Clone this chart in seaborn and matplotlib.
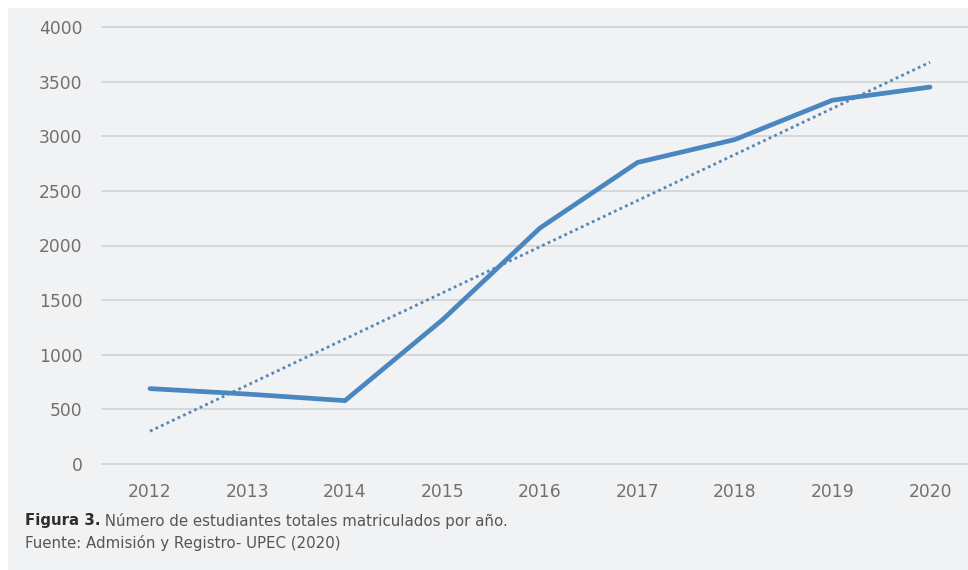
import numpy as np
import pandas as pd
import matplotlib
matplotlib.use("Agg")
import matplotlib.pyplot as plt
import seaborn as sns
from matplotlib.patches import Rectangle

years = [2012, 2013, 2014, 2015, 2016, 2017, 2018, 2019, 2020]
students = [690, 640, 580, 1320, 2160, 2760, 2970, 3330, 3450]
yticks = [0, 500, 1000, 1500, 2000, 2500, 3000, 3500, 4000]
caption_bold = "Figura 3."
caption_rest = " Número de estudiantes totales matriculados por año."
source = "Fuente: Admisión y Registro- UPEC (2020)"

sns.set_theme(style="white")
plt.rcParams['font.family'] = ['DejaVu Sans']

df = pd.DataFrame({"year": years, "students": students})
coef = np.polyfit(df["year"], df["students"], 1)
df["trend"] = np.polyval(coef, df["year"])

W, H = 968, 570
fig = plt.figure(figsize=(W / 100, H / 100), dpi=100, facecolor="white")
bg = Rectangle((8 / W, 0), 1 - 8 / W, (H - 8) / H,
               transform=fig.transFigure, facecolor="#f1f2f4",
               edgecolor="none", zorder=-10)
fig.patches.append(bg)

ax = fig.add_axes([102 / W, (H - 464) / H, (W - 102) / W, (464 - 27) / H])
ax.set_facecolor("none")
ax.set_zorder(1)

for v in yticks:
    ax.axhline(v, color="#d6d7d9", lw=1.4, zorder=1, clip_on=False)

sns.lineplot(data=df, x="year", y="trend", ax=ax, color="#5a86b3",
             lw=2.0, linestyle=(0, (1, 1.2)), zorder=2)
sns.lineplot(data=df, x="year", y="students", ax=ax, color="#4a87c0",
             lw=3.4, zorder=3, solid_joinstyle="miter")

ax.set_xlim(2012 - 48 / 97.5, 2020 + 38 / 97.5)
ax.set_ylim(0, 4000)
ax.set_xticks(years)
ax.set_yticks(yticks)
ax.set_xticklabels([str(y) for y in years])
ax.tick_params(axis="both", length=0, labelsize=12.3, labelcolor="#707070")
ax.tick_params(axis="x", pad=14)
ax.tick_params(axis="y", pad=14)
ax.set_xlabel("")
ax.set_ylabel("")
for s in ax.spines.values():
    s.set_visible(False)

t1 = fig.text(25 / W, 1 - 521 / H, caption_bold, fontsize=10.8, fontweight="bold",
              color="#2e2e2e", va="center", ha="left")
fig.canvas.draw()
bb = t1.get_window_extent()
fig.text(bb.x1 / W, 1 - 521 / H, caption_rest, fontsize=10.8, color="#555555",
         va="center", ha="left")
fig.text(25 / W, 1 - 543 / H, source, fontsize=10.8, color="#555555",
         va="center", ha="left")

fig.savefig("out.png", dpi=100, facecolor="white")
